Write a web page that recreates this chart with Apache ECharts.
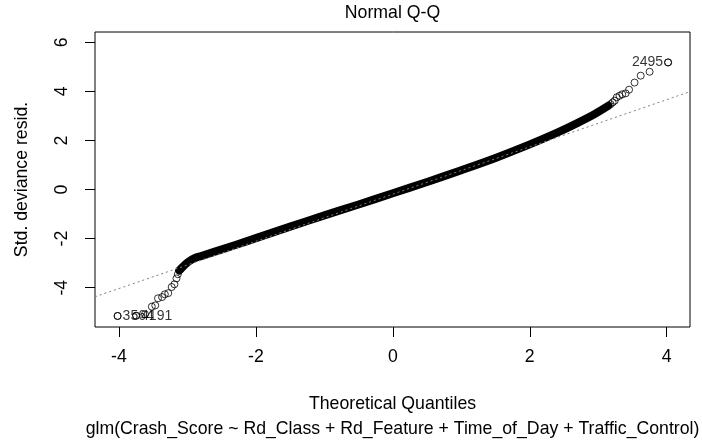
<!DOCTYPE html>
<html>
<head>
<meta charset="utf-8">
<title>Normal Q-Q</title>
<script src="https://cdn.jsdelivr.net/npm/echarts@6/dist/echarts.min.js"></script>
<style>
  html, body { margin: 0; padding: 0; background: #fff; }
  #main { width: 702px; height: 441px; }
</style>
</head>
<body>
<div id="main"></div>
<script>
// tick positions
var xTicks = [-4, -2, 0, 2, 4];
var yTicks = [-4, -2, 0, 2, 4, 6];

// bulk of the sorted residuals, too dense to tell points apart
var bandX = [-3.12, -3.08, -3.04, -2.98, -2.89, -2.80, -2.60, -2.30, -2.00, -1.50, -1.00, -0.50, 0.00, 0.50, 1.00, 1.50, 2.00, 2.40, 2.70, 2.95, 3.15];
var bandY = [-3.30, -3.18, -3.07, -2.93, -2.79, -2.71, -2.53, -2.26, -1.98, -1.51, -1.05, -0.61, -0.15, 0.31, 0.79, 1.29, 1.84, 2.32, 2.72, 3.08, 3.42];

// sparse tails
var lowX = [-4.02, -3.75, -3.62, -3.52, -3.47, -3.43, -3.37, -3.33, -3.28, -3.23, -3.19, -3.16, -3.14];
var lowY = [-5.15, -5.14, -5.08, -4.77, -4.72, -4.43, -4.38, -4.27, -4.22, -3.97, -3.86, -3.62, -3.45];
var highX = [3.18, 3.21, 3.24, 3.27, 3.31, 3.35, 3.40, 3.45, 3.53, 3.62, 3.75, 4.02];
var highY = [3.48, 3.55, 3.62, 3.76, 3.82, 3.88, 3.92, 4.07, 4.36, 4.64, 4.80, 5.18];

// qqline end points (edge to edge)
var qqX = [-4.35, 4.34];
var qqY = [-4.37, 3.99];

// labelled observations
var idNames = ['3564', '4191', '2495'];
var idX = [-4.02, -3.75, 4.02];
var idY = [-5.15, -5.14, 5.18];

var FONT = '"Liberation Sans", Arial, sans-serif';
var FS = 17.7;

function pairs(xs, ys) {
    var out = [];
    for (var i = 0; i < xs.length; i++) out.push([xs[i], ys[i]]);
    return out;
}

var myChart = echarts.init(document.getElementById('main'), null, { renderer: 'canvas' });

var tails = pairs(lowX, lowY).concat(pairs(highX, highY));
var idData = [];
for (var i = 0; i < idNames.length; i++) {
    idData.push({
        value: [idX[i], idY[i]],
        name: idNames[i],
        label: { position: idX[i] > 0 ? 'left' : 'right' }
    });
}

var option = {
    animation: false,
    backgroundColor: '#fff',
    grid: {
        left: 95, right: 12, top: 32, bottom: 114,
        show: true, borderColor: '#000', borderWidth: 1, backgroundColor: 'transparent'
    },
    xAxis: {
        type: 'value',
        min: -4.35, max: 4.34,
        name: 'Theoretical Quantiles',
        nameLocation: 'middle',
        nameGap: 68,
        nameTextStyle: { color: '#000', fontSize: FS, fontFamily: FONT },
        axisLine: { show: false, onZero: false },
        splitLine: { show: false },
        axisTick: { show: true, inside: false, length: 10, customValues: xTicks, lineStyle: { color: '#000' } },
        axisLabel: { customValues: xTicks, color: '#000', fontSize: FS, fontFamily: FONT, margin: 21 }
    },
    yAxis: {
        type: 'value',
        min: -5.6, max: 6.42,
        name: 'Std. deviance resid.',
        nameLocation: 'middle',
        nameRotate: 90,
        nameGap: 64,
        nameTextStyle: { color: '#000', fontSize: FS, fontFamily: FONT },
        axisLine: { show: false, onZero: false },
        splitLine: { show: false },
        axisTick: { show: true, inside: false, length: 10, customValues: yTicks, lineStyle: { color: '#000' } },
        axisLabel: { customValues: yTicks, rotate: 90, color: '#000', fontSize: FS, fontFamily: FONT, margin: 24 }
    },
    graphic: [
        {
            type: 'text', x: 392.5, y: 13,
            style: { text: 'Normal Q-Q', font: FS + 'px ' + FONT, fill: '#000', textAlign: 'center', textVerticalAlign: 'middle' }
        },
        {
            type: 'text', x: 392.5, y: 429,
            style: { text: 'glm(Crash_Score ~ Rd_Class + Rd_Feature + Time_of_Day + Traffic_Control)', font: FS + 'px ' + FONT, fill: '#000', textAlign: 'center', textVerticalAlign: 'middle' }
        }
    ],
    series: [
        {
            type: 'line',
            data: pairs(bandX, bandY),
            showSymbol: false,
            smooth: 0.3,
            silent: true,
            lineStyle: { color: '#000', width: 8, cap: 'round', join: 'round' },
            z: 2
        },
        {
            type: 'scatter',
            data: tails,
            symbol: 'circle',
            symbolSize: 7,
            silent: true,
            itemStyle: { color: 'rgba(0,0,0,0)', borderColor: '#000', borderWidth: 1 },
            z: 3
        },
        {
            type: 'line',
            data: pairs(qqX, qqY),
            showSymbol: false,
            silent: true,
            lineStyle: { color: '#808080', width: 1, type: [2, 3] },
            z: 4
        },
        {
            type: 'scatter',
            data: idData,
            symbol: 'circle',
            symbolSize: 7,
            silent: true,
            itemStyle: { color: 'rgba(0,0,0,0)', borderColor: '#000', borderWidth: 1 },
            label: {
                show: true,
                formatter: '{b}',
                distance: 1,
                color: '#000',
                fontSize: 14,
                fontFamily: FONT
            },
            z: 5
        }
    ]
};

myChart.setOption(option);
</script>
</body>
</html>
